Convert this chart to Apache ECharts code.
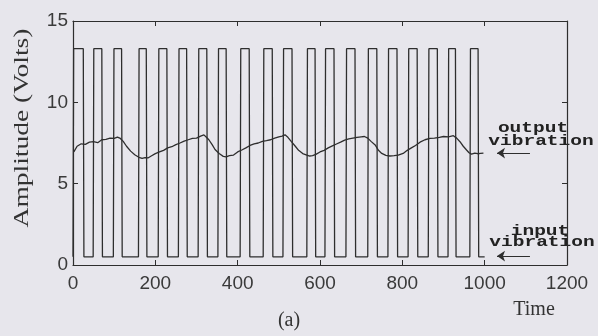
<!DOCTYPE html>
<html>
<head>
<meta charset="utf-8">
<script src="https://cdn.jsdelivr.net/npm/echarts@6/dist/echarts.min.js"></script>
<style>
html, body { margin: 0; background: #e7e6ec; }
#chart { width: 598px; height: 336px; }
</style>
</head>
<body>
<div id="chart"></div>
<script>
// input square wave: times where each pulse goes up / comes down
var riseTimes = [0, 49, 98, 159, 207, 256, 304, 352, 406, 462, 510, 568, 612, 663, 716, 765, 814, 863, 911, 964];
var fallTimes = [25, 70, 118, 178, 228, 276, 325, 372, 428, 484, 532, 588, 634, 685, 738, 787, 836, 885, 929, 984];
var highLevel = 13.3;
var lowLevel = 0.5;
var endTime = 1000;

// output vibration
var outputTimes = [2, 10, 20, 30, 40, 50, 60, 70, 80, 90, 100, 108, 115, 122, 130, 140, 150, 160, 168, 175, 182, 190,
  200, 210, 220, 230, 240, 250, 260, 270, 280, 290, 300, 310, 318, 324, 330, 338, 345, 355, 365, 372, 380, 390,
  400, 410, 420, 430, 440, 450, 460, 470, 480, 490, 500, 508, 515, 522, 530, 540, 548, 558, 568, 575, 582, 590,
  600, 610, 620, 630, 640, 650, 660, 670, 680, 690, 700, 708, 716, 724, 734, 742, 750, 760, 770, 780, 790,
  802, 812, 822, 832, 843, 855, 867, 878, 890, 900, 912, 924, 932, 940, 948, 956, 962, 968, 976, 983, 990, 997];
var outputVolts = [6.95, 7.3, 7.45, 7.42, 7.55, 7.58, 7.52, 7.7, 7.72, 7.8, 7.78, 7.86, 7.78, 7.6, 7.3, 7.0, 6.78, 6.62, 6.55, 6.6, 6.58, 6.7,
  6.85, 6.95, 7.05, 7.2, 7.27, 7.4, 7.5, 7.62, 7.7, 7.78, 7.8, 7.92, 8.0, 7.85, 7.7, 7.4, 7.1, 6.85, 6.68, 6.65, 6.72, 6.76,
  6.95, 7.07, 7.2, 7.35, 7.44, 7.5, 7.6, 7.64, 7.7, 7.8, 7.88, 7.92, 8.0, 7.85, 7.6, 7.3, 7.05, 6.85, 6.76, 6.7, 6.72, 6.8,
  6.95, 7.05, 7.2, 7.32, 7.44, 7.55, 7.68, 7.75, 7.8, 7.85, 7.88, 7.9, 7.8, 7.6, 7.38, 7.05, 6.86, 6.74, 6.7, 6.72, 6.75,
  6.86, 7.05, 7.2, 7.35, 7.55, 7.7, 7.78, 7.8, 7.85, 7.9, 7.88, 7.95, 7.8, 7.58, 7.3, 7.07, 6.9, 6.82, 6.88, 6.84, 6.86, 6.88];

var xTicks = [0, 200, 400, 600, 800, 1000, 1200];
var yTicks = [0, 5, 10, 15];

var inputData = [];
riseTimes.forEach(function (r, i) {
  inputData.push([r, lowLevel], [r + 1.5, highLevel], [fallTimes[i], highLevel], [fallTimes[i] + 1.5, lowLevel]);
});
inputData.push([endTime, lowLevel]);

var outputData = outputTimes.map(function (t, i) {
  return [t, outputVolts[i]];
});

var ink = '#2e2e2e';

function plain(v) { return String(v); }

function xAxisCfg(pos, labels) {
  return {
    type: 'value', position: pos,
    min: xTicks[0], max: xTicks[xTicks.length - 1], interval: xTicks[1] - xTicks[0],
    axisLine: { show: true, onZero: false, lineStyle: { color: ink, width: 1.2 } },
    axisTick: { show: true, inside: true, length: 5, lineStyle: { color: ink } },
    axisLabel: { show: labels, fontSize: 19, color: '#3a3a3a', margin: 9, fontFamily: 'Liberation Sans', formatter: plain },
    splitLine: { show: false }
  };
}
function yAxisCfg(pos, labels) {
  return {
    type: 'value', position: pos,
    min: yTicks[0], max: yTicks[yTicks.length - 1], interval: yTicks[1] - yTicks[0],
    axisLine: { show: true, onZero: false, lineStyle: { color: ink, width: 1.2 } },
    axisTick: { show: true, inside: true, length: 5, lineStyle: { color: ink } },
    axisLabel: { show: labels, fontSize: 19, color: '#3a3a3a', margin: 5, fontFamily: 'Liberation Sans', formatter: plain },
    splitLine: { show: false }
  };
}

var chart = echarts.init(document.getElementById('chart'));

var monoFont = 'bold 15px "Liberation Mono"';
var serifFont = '20px "Liberation Serif"';

var option = {
  backgroundColor: '#e7e6ec',
  animation: false,
  grid: { left: 73, right: 31, top: 21, bottom: 71 },
  xAxis: [xAxisCfg('bottom', true), xAxisCfg('top', false)],
  yAxis: [yAxisCfg('left', true), yAxisCfg('right', false)],
  series: [
    {
      name: 'input vibration', type: 'line', data: inputData,
      showSymbol: false, silent: true,
      lineStyle: { color: ink, width: 1.3 }
    },
    {
      name: 'output vibration', type: 'line', data: outputData,
      showSymbol: false, silent: true,
      lineStyle: { color: ink, width: 1.3 },
      markLine: {
        silent: true,
        symbol: ['none', 'arrow'],
        symbolSize: 8,
        label: { show: false },
        lineStyle: { color: ink, width: 1.2, type: 'solid' },
        data: [
          [{ coord: [1110, 6.88] }, { coord: [1030, 6.88] }],
          [{ coord: [1110, 0.55] }, { coord: [1030, 0.55] }]
        ]
      }
    }
  ],
  graphic: [
    { type: 'text', x: 22, y: 128, rotation: Math.PI / 2, scaleX: 1.25,
      style: { text: 'Amplitude (Volts)', font: '22px "Liberation Serif"', fill: '#333', align: 'center', verticalAlign: 'middle' } },
    { type: 'text', x: 534, y: 310, style: { text: 'Time', font: serifFont, fill: '#333', align: 'center', verticalAlign: 'middle' } },
    { type: 'text', x: 289, y: 321, style: { text: '(a)', font: serifFont, fill: '#333', align: 'center', verticalAlign: 'middle' } },
    { type: 'text', x: 533, y: 128, scaleX: 1.3, style: { text: 'output', font: monoFont, fill: '#222', align: 'center', verticalAlign: 'middle' } },
    { type: 'text', x: 541, y: 141, scaleX: 1.3, style: { text: 'vibration', font: monoFont, fill: '#222', align: 'center', verticalAlign: 'middle' } },
    { type: 'text', x: 540, y: 231, scaleX: 1.3, style: { text: 'input', font: monoFont, fill: '#222', align: 'center', verticalAlign: 'middle' } },
    { type: 'text', x: 542, y: 242, scaleX: 1.3, style: { text: 'vibration', font: monoFont, fill: '#222', align: 'center', verticalAlign: 'middle' } }
  ]
};

chart.setOption(option);
</script>
</body>
</html>
